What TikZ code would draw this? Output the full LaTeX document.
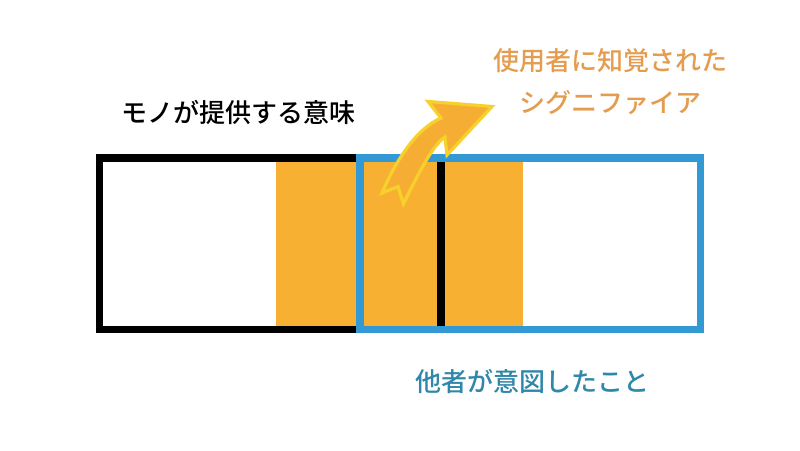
\documentclass[tikz,border=0pt]{standalone}
\usepackage{fontspec}
\newfontfamily\jp{Noto Sans CJK JP Medium}
\definecolor{sigfill}{HTML}{F7B032}
\definecolor{objline}{HTML}{000000}
\definecolor{othline}{HTML}{3399D4}
\definecolor{usertext}{HTML}{E49C4F}
\definecolor{othtext}{HTML}{2F87AA}
\definecolor{arrowfill}{HTML}{F6AD33}
\definecolor{arrowedge}{HTML}{F7D02C}
\tikzset{
  box/.style={draw, line width=7.5pt, inner sep=0pt, outer sep=0pt, fill=none},
  lbl/.style={font=\jp\fontsize{26}{42}\selectfont, inner sep=0pt, align=center},
}
\begin{document}
\begin{tikzpicture}[x=1pt,y=-1pt]
\useasboundingbox[fill=white] (0,0) rectangle (800,450);
% shared zone (signifier)
\node[fill=sigfill, inner sep=0pt, minimum width=247pt, minimum height=164pt] (sig) at (399.5,244) {};
% object box
\node[box, draw=objline, minimum width=341.3pt, minimum height=171.5pt] (obj) at (270.35,243.75) {};
% other's intention box
\node[box, draw=othline, minimum width=340.5pt, minimum height=171.5pt] (oth) at (530.25,243.75) {};
% labels
\node[lbl, text=black] (objlbl) at (238.7,112) {モノが提供する意味};
\node[lbl, text=othtext] (othlbl) at (532,381) {他者が意図したこと};
\node[lbl, text=usertext] (userlbl) at (610,81.5) {使用者に知覚された\\シグニファイア};
% curved arrow
\draw[line width=3.2pt, draw=arrowedge, fill=arrowfill, line join=miter]
  (382,193) .. controls (394,165) and (414,130) .. (441,118)
  -- (428,101.5) -- (492,106.5) -- (447,155) -- (445,137)
  .. controls (436,142) and (422,165) .. (403.5,204)
  -- (398,186.5) -- cycle;
\end{tikzpicture}
\end{document}
